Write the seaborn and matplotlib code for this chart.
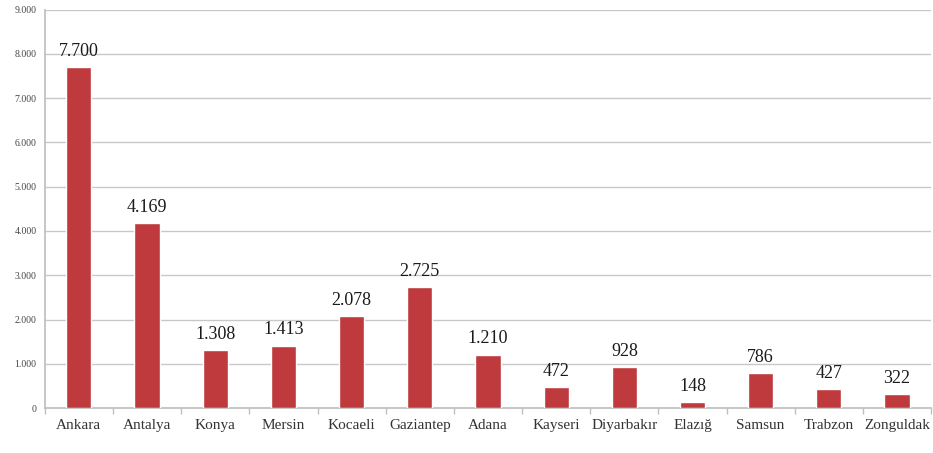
import matplotlib
matplotlib.use("Agg")
import matplotlib.pyplot as plt
import seaborn as sns
import pandas as pd
from matplotlib.ticker import FuncFormatter, FixedLocator

cities = ["Ankara", "Antalya", "Konya", "Mersin", "Kocaeli", "Gaziantep", "Adana",
          "Kayseri", "Diyarbakır", "Elazığ", "Samsun", "Trabzon", "Zonguldak"]
values = [7700, 4169, 1308, 1413, 2078, 2725, 1210, 472, 928, 148, 786, 427, 322]
yticks = list(range(0, 9001, 1000))

def fmt(v):
    return f"{int(v):,}".replace(",", ".")

sns.set_theme(style="white")
plt.rcParams['font.family'] = ['Liberation Serif', 'DejaVu Serif']

df = pd.DataFrame({"city": cities, "value": values})
fig = plt.figure(figsize=(9.33, 4.53), dpi=100)
ax = fig.add_axes([0.048, 0.099, 0.950, 0.880])
sns.barplot(data=df, x="city", y="value", color="#be3a3c", width=0.37,
            saturation=1, ax=ax, zorder=3)
ax.set_ylim(0, 9000)
ax.set_xlim(-0.5, len(cities) - 0.5)
ax.yaxis.set_major_locator(FixedLocator(yticks))
ax.yaxis.set_major_formatter(FuncFormatter(lambda v, p: fmt(v)))
ax.grid(axis="y", color="#c8c8c8", linewidth=1.0, zorder=0)
ax.set_xlabel("")
ax.set_ylabel("")
for s in ["top", "right"]:
    ax.spines[s].set_visible(False)
ax.spines["left"].set_color("#bfbfbf")
ax.spines["bottom"].set_color("#bfbfbf")
ax.tick_params(axis="y", labelsize=7, colors="#444444", length=0, pad=6)
ax.tick_params(axis="x", labelsize=11, colors="#333333", length=0, pad=8)
# minor ticks between categories
ax.set_xticks([i + 0.5 for i in range(-1, len(cities))], minor=True)
ax.tick_params(axis="x", which="minor", length=4, color="#bfbfbf", bottom=True)

for i, v in enumerate(values):
    ax.text(i, v + 160, fmt(v), ha="center", va="bottom", fontsize=13, color="#1a1a1a")

fig.savefig("out.png", dpi=100)
